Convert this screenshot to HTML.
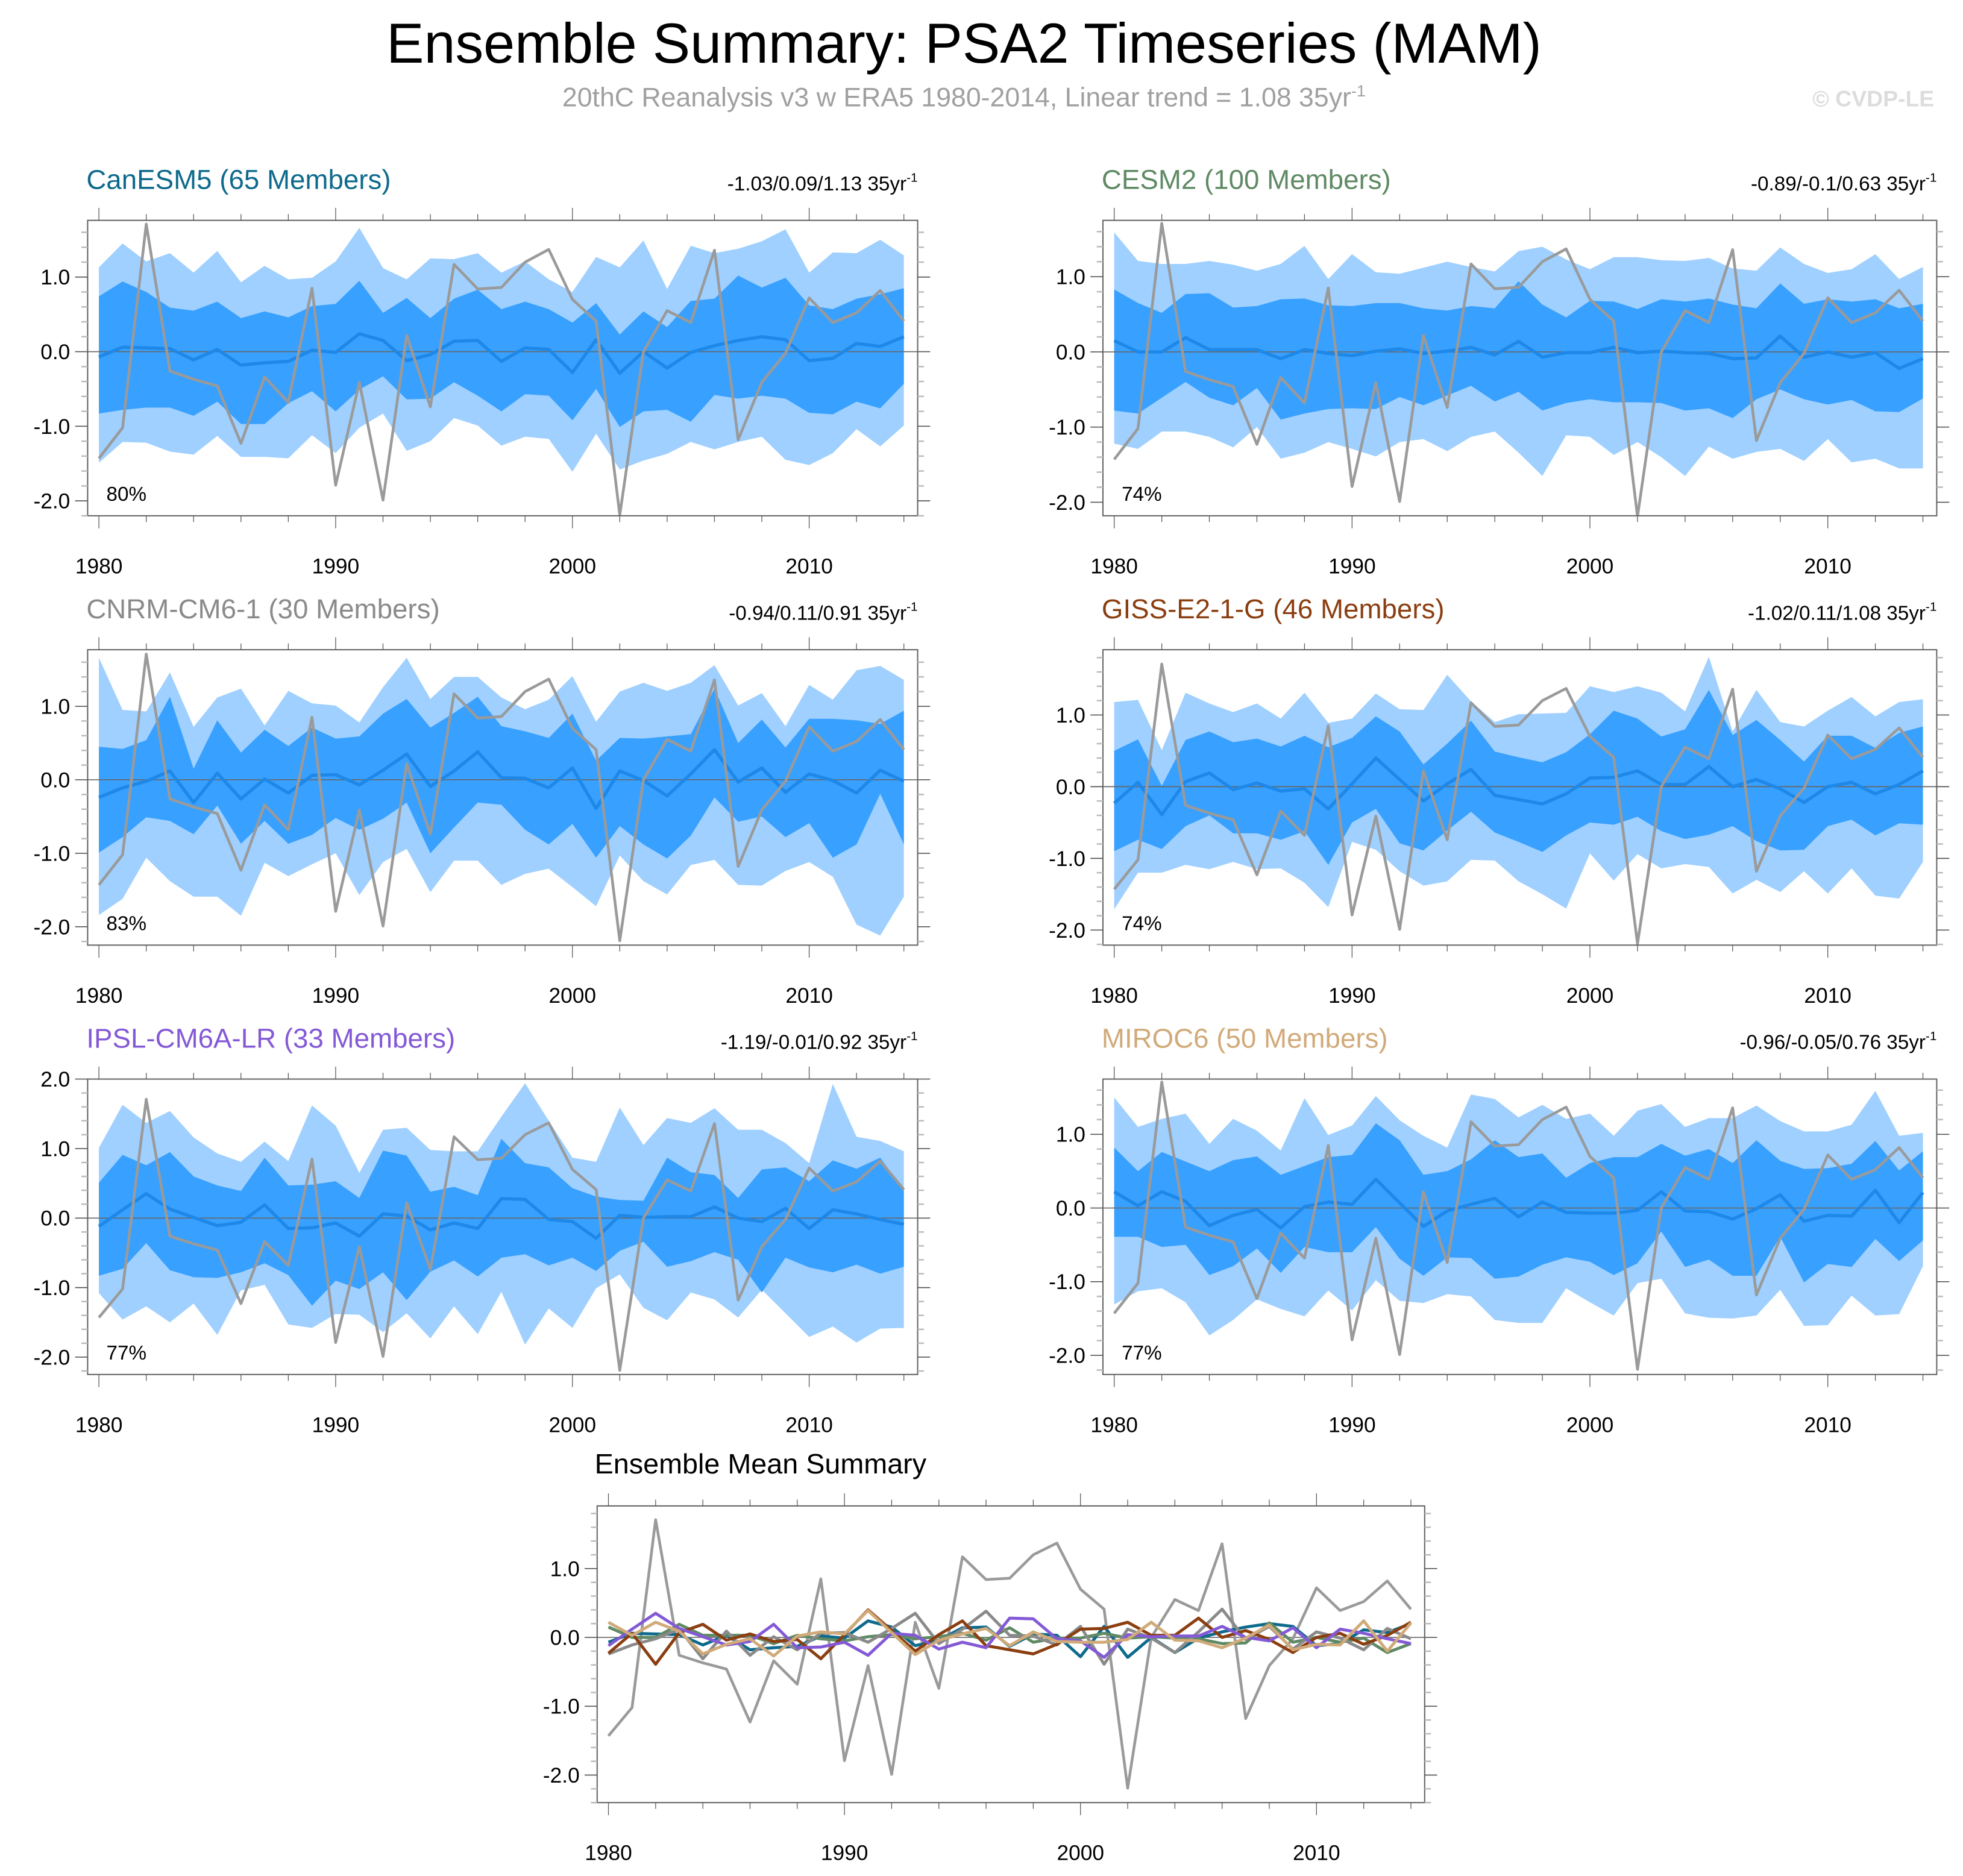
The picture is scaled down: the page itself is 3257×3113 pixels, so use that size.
<!DOCTYPE html>
<html><head><meta charset="utf-8">
<style>
html,body{margin:0;padding:0;background:#fff;}
svg{display:block;}
text{font-family:"Liberation Sans",Arial,sans-serif;}
</style></head>
<body>
<svg id="chart" width="3257" height="3113" viewBox="0 0 1568 1498.6" xmlns="http://www.w3.org/2000/svg">
<text x="770" y="50" font-size="45" text-anchor="middle" fill="#000">Ensemble Summary: PSA2 Timeseries (MAM)</text>
<text x="770" y="85" font-size="21.5" text-anchor="middle" fill="#a0a0a0">20thC Reanalysis v3 w ERA5 1980-2014, Linear trend = 1.08 35yr<tspan dy="-8" font-size="13">-1</tspan></text>
<text x="1545" y="85" font-size="18" font-weight="bold" text-anchor="end" fill="#dcdcdc">© CVDP-LE</text>
<g id="panels"></g>
</svg>
<script>
const years = [];
for (let y = 1980; y <= 2014; y++) years.push(y);
const observed = [-1.43,-1.02,1.71,-0.26,-0.37,-0.46,-1.23,-0.34,-0.68,0.85,-1.79,-0.41,-1.99,0.22,-0.74,1.17,0.84,0.86,1.20,1.37,0.70,0.41,-2.19,0.0,0.55,0.39,1.36,-1.18,-0.41,-0.02,0.72,0.39,0.52,0.82,0.41];

const canMean = [-0.07,0.06,0.05,0.04,-0.11,0.03,-0.18,-0.15,-0.13,0.02,-0.01,0.24,0.15,-0.12,-0.04,0.14,0.15,-0.13,0.05,0.03,-0.28,0.16,-0.29,0.0,-0.22,-0.01,0.08,0.15,0.20,0.16,-0.12,-0.09,0.11,0.07,0.20];
const canInTop = [0.74,0.94,0.80,0.59,0.55,0.67,0.45,0.54,0.46,0.61,0.64,0.95,0.52,0.72,0.45,0.71,0.83,0.57,0.67,0.57,0.39,0.65,0.23,0.54,0.33,0.68,0.71,1.02,0.86,0.99,0.62,0.57,0.71,0.77,0.85];
const canInBot = [-0.83,-0.78,-0.75,-0.75,-0.86,-0.67,-0.97,-0.97,-0.69,-0.53,-0.80,-0.51,-0.33,-0.64,-0.63,-0.41,-0.59,-0.80,-0.57,-0.59,-0.92,-0.50,-1.01,-0.80,-0.78,-0.94,-0.58,-0.63,-0.59,-0.63,-0.82,-0.84,-0.67,-0.76,-0.43];
const canOutTop = [1.13,1.45,1.21,1.32,1.06,1.35,0.93,1.15,0.97,0.99,1.21,1.66,1.12,0.97,1.25,1.24,1.32,1.06,1.21,0.97,0.80,1.27,1.13,1.49,0.84,1.42,1.32,1.38,1.48,1.64,1.06,1.33,1.32,1.50,1.29];
const canOutBot = [-1.49,-1.21,-1.22,-1.34,-1.38,-1.13,-1.41,-1.41,-1.43,-1.12,-1.36,-1.02,-0.83,-1.33,-1.20,-0.89,-0.99,-1.26,-1.14,-1.17,-1.61,-1.10,-1.58,-1.46,-1.37,-1.21,-1.31,-1.21,-1.14,-1.45,-1.52,-1.36,-1.04,-1.27,-0.99];

const cesmMean = [0.15,0,0,0.19,0.03,0.03,0.03,-0.09,0.03,-0.02,-0.05,0.01,0.04,-0.02,0.01,0.06,-0.04,0.14,-0.07,-0.01,-0.01,0.06,-0.01,0.01,-0.01,-0.02,-0.09,-0.08,0.21,-0.07,0,-0.07,-0.01,-0.22,-0.09];
const cesmInTop = [0.83,0.65,0.52,0.77,0.78,0.59,0.61,0.70,0.71,0.62,0.61,0.65,0.65,0.58,0.55,0.61,0.58,0.94,0.63,0.46,0.68,0.67,0.57,0.70,0.67,0.71,0.63,0.58,0.91,0.64,0.70,0.67,0.70,0.58,0.64];
const cesmInBot = [-0.78,-0.82,-0.61,-0.40,-0.61,-0.71,-0.48,-0.90,-0.82,-0.76,-0.75,-0.76,-0.60,-0.71,-0.58,-0.45,-0.66,-0.53,-0.78,-0.68,-0.63,-0.67,-0.67,-0.68,-0.78,-0.75,-0.88,-0.63,-0.50,-0.63,-0.70,-0.64,-0.79,-0.80,-0.62];
const cesmOutTop = [1.59,1.21,1.17,1.17,1.21,1.16,1.08,1.17,1.41,0.97,1.30,1.06,1.04,1.12,1.20,1.13,1.07,1.34,1.40,1.23,1.10,1.26,1.26,1.22,1.21,1.25,1.11,1.08,1.39,1.17,1.05,1.10,1.30,0.97,1.13];
const cesmOutBot = [-1.22,-1.29,-1.06,-1.06,-1.13,-1.27,-1.00,-1.42,-1.34,-1.20,-1.29,-1.39,-1.20,-1.16,-1.32,-1.13,-1.06,-1.34,-1.65,-1.11,-1.13,-1.37,-1.20,-1.40,-1.65,-1.26,-1.42,-1.33,-1.29,-1.45,-1.16,-1.47,-1.42,-1.55,-1.55];

const cnrmMean = [-0.24,-0.11,-0.02,0.12,-0.31,0.09,-0.26,0.01,-0.18,0.06,0.07,-0.07,0.13,0.35,-0.09,0.12,0.38,0.03,0.02,-0.11,0.16,-0.39,0.12,-0.01,-0.22,0.08,0.41,-0.03,0.16,-0.17,0.08,-0.01,-0.18,0.13,-0.02];
const cnrmInTop = [0.45,0.42,0.54,1.13,0.15,0.81,0.37,0.68,0.46,0.71,0.56,0.59,0.90,1.10,0.71,0.91,1.13,0.73,0.66,0.57,0.90,0.26,0.57,0.56,0.59,0.62,1.24,0.50,0.82,0.44,0.83,0.83,0.81,0.76,0.94];
const cnrmInBot = [-0.99,-0.78,-0.51,-0.56,-0.74,-0.35,-0.87,-0.56,-0.87,-0.75,-0.52,-0.68,-0.53,-0.31,-1.00,-0.65,-0.31,-0.34,-0.68,-0.88,-0.60,-1.06,-0.63,-0.88,-1.07,-0.76,-0.24,-0.57,-0.50,-0.78,-0.59,-1.06,-0.88,-0.19,-0.88];
const cnrmOutTop = [1.66,0.95,0.93,1.46,0.72,1.12,1.24,0.74,1.21,1.04,1.01,0.78,1.26,1.66,1.10,1.40,1.40,1.12,0.96,1.09,1.41,0.79,1.20,1.32,1.21,1.32,1.56,1.01,1.18,0.73,1.29,1.09,1.49,1.55,1.36];
const cnrmOutBot = [-1.84,-1.62,-1.06,-1.38,-1.59,-1.59,-1.85,-1.13,-1.31,-1.15,-1.00,-1.57,-1.12,-0.94,-1.53,-1.10,-1.10,-1.43,-1.28,-1.21,-1.46,-1.72,-1.03,-1.38,-1.56,-1.16,-1.09,-1.43,-1.44,-1.24,-1.12,-1.32,-1.97,-2.12,-1.59];

const gissMean = [-0.23,0.06,-0.39,0.07,0.19,-0.04,0.05,-0.06,-0.03,-0.31,0.04,0.40,0.10,-0.20,0.04,0.24,-0.12,-0.18,-0.24,-0.10,0.12,0.13,0.22,0.03,0.03,0.28,0,0.10,-0.03,-0.22,0,0.06,-0.10,0.03,0.22];
const gissInTop = [0.50,0.66,0.01,0.65,0.77,0.62,0.67,0.56,0.71,0.55,0.68,0.98,0.77,0.31,0.60,0.92,0.49,0.41,0.34,0.48,0.73,1.06,0.95,0.70,0.80,1.35,0.72,0.93,0.65,0.35,0.71,0.71,0.54,0.75,0.84];
const gissInBot = [-0.90,-0.74,-0.87,-0.55,-0.40,-0.65,-0.65,-0.74,-0.62,-1.09,-0.50,-0.31,-0.79,-0.89,-0.61,-0.35,-0.64,-0.77,-0.91,-0.68,-0.50,-0.53,-0.42,-0.62,-0.73,-0.67,-0.55,-0.76,-0.89,-0.88,-0.55,-0.46,-0.68,-0.51,-0.53];
const gissOutTop = [1.18,1.21,0.51,1.31,1.16,1.04,1.16,0.95,1.31,0.89,0.95,1.30,1.08,1.07,1.56,1.19,0.90,1.01,1.02,1.03,1.40,1.32,1.40,1.31,1.05,1.81,0.77,1.35,0.90,0.84,1.06,1.25,0.98,1.18,1.22];
const gissOutBot = [-1.71,-1.20,-1.20,-1.09,-1.15,-1.05,-1.15,-1.14,-1.34,-1.68,-0.77,-0.88,-1.18,-1.38,-1.32,-1.02,-1.03,-1.32,-1.50,-1.70,-0.93,-1.31,-0.94,-1.14,-1.08,-1.12,-1.49,-1.30,-1.47,-1.18,-1.49,-1.14,-1.52,-1.56,-1.05];

const ipslMean = [-0.12,0.12,0.35,0.13,0.01,-0.11,-0.06,0.19,-0.15,-0.14,-0.07,-0.26,0.06,0.03,-0.17,-0.07,-0.15,0.28,0.27,-0.02,-0.05,-0.29,0.04,0.01,0.02,0.02,0.16,0,-0.05,0.14,-0.15,0.12,0.06,-0.02,-0.09];
const ipslInTop = [0.51,0.91,0.76,0.95,0.60,0.47,0.39,0.87,0.47,0.48,0.53,0.29,0.97,0.90,0.38,0.45,0.33,1.14,0.79,0.73,0.43,0.31,0.26,0.25,0.87,0.66,0.62,0.29,0.70,0.73,0.53,0.83,0.71,0.87,0.40];
const ipslInBot = [-0.83,-0.73,-0.36,-0.75,-0.85,-0.86,-0.78,-0.65,-0.82,-1.26,-0.90,-1.02,-0.78,-1.18,-0.77,-0.61,-0.84,-0.57,-0.52,-0.68,-0.57,-0.76,-0.47,-0.34,-0.70,-0.62,-0.49,-0.60,-1.07,-0.57,-0.71,-0.78,-0.67,-0.80,-0.70];
const ipslOutTop = [1.01,1.63,1.37,1.54,1.16,0.93,0.81,1.10,0.82,1.62,1.33,0.65,1.27,1.30,0.98,0.96,0.96,1.46,1.94,1.40,0.87,0.81,1.59,1.05,1.44,1.37,1.58,1.27,1.27,1.08,0.79,1.93,1.17,1.11,0.96];
const ipslOutBot = [-1.08,-1.46,-1.27,-1.50,-1.23,-1.68,-1.04,-0.96,-1.53,-1.58,-1.38,-1.39,-1.64,-1.37,-1.73,-1.27,-1.67,-1.06,-1.82,-1.30,-1.58,-1.01,-0.81,-1.29,-1.47,-1.07,-1.17,-1.43,-1.03,-1.37,-1.71,-1.56,-1.79,-1.59,-1.58];

const mirocMean = [0.22,0.03,0.22,0.09,-0.24,-0.10,-0.02,-0.27,0.02,0.08,0.05,0.39,0.07,-0.25,-0.04,0.05,0.13,-0.12,0.08,-0.06,-0.07,-0.07,-0.03,0.22,-0.04,-0.05,-0.15,-0.01,0.18,-0.18,-0.10,-0.11,0.24,-0.20,0.21];
const mirocInTop = [0.82,0.50,0.76,0.63,0.50,0.65,0.70,0.45,0.57,0.69,0.72,1.15,0.92,0.45,0.50,0.66,0.92,0.69,0.74,0.41,0.61,0.69,0.69,0.87,0.71,0.80,0.61,0.92,0.64,0.53,0.54,0.60,0.91,0.51,0.77];
const mirocInBot = [-0.39,-0.39,-0.53,-0.50,-0.91,-0.79,-0.55,-0.88,-0.53,-0.60,-0.60,-0.26,-0.69,-0.92,-0.67,-0.68,-0.96,-0.93,-0.77,-0.67,-0.73,-0.91,-0.75,-0.32,-0.80,-0.70,-0.92,-0.92,-0.39,-1.01,-0.76,-0.80,-0.42,-0.72,-0.44];
const mirocOutTop = [1.50,1.10,1.21,1.28,0.87,1.21,1.05,0.78,1.49,0.99,1.12,1.52,1.19,0.98,0.82,1.54,1.48,1.23,1.40,1.21,1.28,0.98,1.32,1.41,1.10,1.22,1.22,1.39,1.18,1.04,1.04,1.13,1.59,0.98,1.02];
const mirocOutBot = [-1.31,-1.13,-1.09,-1.28,-1.73,-1.52,-1.24,-1.37,-1.47,-1.12,-1.39,-0.98,-1.26,-1.29,-1.17,-1.20,-1.52,-1.56,-1.56,-1.09,-1.28,-1.46,-1.02,-0.96,-1.43,-1.49,-1.50,-1.46,-1.11,-1.60,-1.59,-1.19,-1.46,-1.44,-0.79];

const modelNames = ["CanESM5 (65 Members)","CESM2 (100 Members)","CNRM-CM6-1 (30 Members)","GISS-E2-1-G (46 Members)","IPSL-CM6A-LR (33 Members)","MIROC6 (50 Members)"];
const trendLabels = ["-1.03/0.09/1.13 35yr","-0.89/-0.1/0.63 35yr","-0.94/0.11/0.91 35yr","-1.02/0.11/1.08 35yr","-1.19/-0.01/0.92 35yr","-0.96/-0.05/0.76 35yr"];
const pctLabels = ["80%","74%","83%","74%","77%","77%"];
const xTickYears = [1980,1990,2000,2010];
const modelColors = ["#0e6a8c","#5f8a64","#8a8a8a","#8b3e10","#8459d6","#d1aa79"];

const NS = "http://www.w3.org/2000/svg";
const root = document.getElementById("panels");
function mk(tag, attrs, parent) {
  const e = document.createElementNS(NS, tag);
  for (const k in attrs) e.setAttribute(k, attrs[k]);
  (parent || root).appendChild(e);
  return e;
}

const panelsSpec = [
  {x0:70,x1:733,y0:176,y1:412,vmax:1.76,vmin:-2.2,data:[canMean,canInTop,canInBot,canOutTop,canOutBot]},
  {x0:881,x1:1547,y0:176,y1:412,vmax:1.75,vmin:-2.18,data:[cesmMean,cesmInTop,cesmInBot,cesmOutTop,cesmOutBot]},
  {x0:70,x1:733,y0:519,y1:755,vmax:1.77,vmin:-2.25,data:[cnrmMean,cnrmInTop,cnrmInBot,cnrmOutTop,cnrmOutBot]},
  {x0:881,x1:1547,y0:519,y1:755,vmax:1.91,vmin:-2.21,data:[gissMean,gissInTop,gissInBot,gissOutTop,gissOutBot]},
  {x0:70,x1:733,y0:862,y1:1098,vmax:2.0,vmin:-2.25,data:[ipslMean,ipslInTop,ipslInBot,ipslOutTop,ipslOutBot]},
  {x0:881,x1:1547,y0:862,y1:1098,vmax:1.75,vmin:-2.26,data:[mirocMean,mirocInTop,mirocInBot,mirocOutTop,mirocOutBot]}
];

function axes(p, g) {
  const xs = yr => p.x0 + 9 + (yr - 1980) * ((p.x1 - p.x0 - 20) / 34);
  const ys = v => p.y0 + (p.vmax - v) / (p.vmax - p.vmin) * (p.y1 - p.y0);
  return {xs, ys};
}

function drawFrame(p, g, xs, ys) {
  for (let yr = 1980; yr <= 2014; yr += 2) {
    const major = (yr % 10 === 0);
    const L = major ? 10 : 5;
    const X = xs(yr);
    const t1 = mk("line", {x1:X,x2:X,y1:p.y0,y2:p.y0-L,stroke:"#555","stroke-width":0.6}, g);
    
    
    const t2 = mk("line", {x1:X,x2:X,y1:p.y1,y2:p.y1+L,stroke:"#555","stroke-width":0.6}, g);
    
    
  }
  for (let k = Math.ceil(p.vmin * 5); k <= Math.floor(p.vmax * 5); k++) {
    const v = k / 5;
    const major = (k % 5 === 0);
    const L = major ? 10 : 5;
    const Y = ys(v);
    const c = major ? "#555" : "#bbb";
    const a = mk("line", {x1:p.x0,x2:p.x0-L,y1:Y,y2:Y,stroke:c,"stroke-width":major?0.8:1.2}, g);
    
    
    const b = mk("line", {x1:p.x1,x2:p.x1+L,y1:Y,y2:Y,stroke:c,"stroke-width":major?0.8:1.2}, g);
    
    
    if (major) {
      const t = mk("text", {x:p.x0-14,y:Y+6,"font-size":17,"text-anchor":"end",fill:"#000"}, g);
      t.textContent = v.toFixed(1);
      
      
    }
  }
  xTickYears.forEach(yr => {
    const t = mk("text", {x:xs(yr),y:p.y1+46,"font-size":17,"text-anchor":"middle",fill:"#000"}, g);
    t.textContent = yr;
    
    
  });
}

function poly(arr, xs, ys) {
  return arr.map((v, i) => xs(years[i]).toFixed(2) + "," + ys(v).toFixed(2)).join(" ");
}
function band(top, bot, xs, ys) {
  const pts = top.map((v, i) => xs(years[i]).toFixed(2) + "," + ys(v).toFixed(2));
  for (let i = bot.length - 1; i >= 0; i--) pts.push(xs(years[i]).toFixed(2) + "," + ys(bot[i]).toFixed(2));
  return pts.join(" ");
}

panelsSpec.forEach((p, idx) => {
  const g = mk("g", {});
  
  
  const {xs, ys} = axes(p, g);
  const clipId = "clip" + idx;
  const cp = mk("clipPath", {id: clipId}, g);
  mk("rect", {x:p.x0,y:p.y0,width:p.x1-p.x0,height:p.y1-p.y0}, cp);
  const plot = mk("g", {"clip-path": "url(#" + clipId + ")"}, g);
  const [mean, inTop, inBot, outTop, outBot] = p.data;
  const ob = mk("polygon", {points: band(outTop, outBot, xs, ys), fill:"#9fd0ff"}, plot);
  
  
  const ib = mk("polygon", {points: band(inTop, inBot, xs, ys), fill:"#38a0ff"}, plot);
  
  
  const z = mk("line", {x1:p.x0,x2:p.x1,y1:ys(0),y2:ys(0),stroke:"#666","stroke-width":0.8}, plot);
  
  
  const ml = mk("polyline", {points: poly(mean, xs, ys), fill:"none", stroke:"#1e88e8","stroke-width":2.6,"stroke-linejoin":"round"}, plot);
  
  
  const obs = mk("polyline", {points: poly(observed, xs, ys), fill:"none", stroke:"#9a9a9a","stroke-width":2.2,"stroke-linejoin":"round"}, plot);
  
  
  const fr = mk("rect", {x:p.x0,y:p.y0,width:p.x1-p.x0,height:p.y1-p.y0,fill:"none",stroke:"#666","stroke-width":1}, g);
  
  
  drawFrame(p, g, xs, ys);
  const tt = mk("text", {x:p.x0-1,y:p.y0-25,"font-size":22,fill:modelColors[idx]}, g);
  tt.textContent = modelNames[idx];
  
  
  const tr = mk("text", {x:p.x1,y:p.y0-24,"font-size":16,"text-anchor":"end",fill:"#000"}, g);
  tr.textContent = trendLabels[idx];
  const sup = mk("tspan", {dy:-7,"font-size":10}, tr);
  sup.textContent = "-1";
  
  
  const pc = mk("text", {x:p.x0+15,y:p.y1-12,"font-size":16,fill:"#000"}, g);
  pc.textContent = pctLabels[idx];
  
  
});

const ep = {x0:477,x1:1138,y0:1203,y1:1440,vmax:1.91,vmin:-2.4};
const eg = mk("g", {});


const E = axes(ep, eg);
const ecp = mk("clipPath", {id:"clipE"}, eg);
mk("rect", {x:ep.x0,y:ep.y0,width:ep.x1-ep.x0,height:ep.y1-ep.y0}, ecp);
const eplot = mk("g", {"clip-path":"url(#clipE)"}, eg);
const ez = mk("line", {x1:ep.x0,x2:ep.x1,y1:E.ys(0),y2:E.ys(0),stroke:"#666","stroke-width":0.8}, eplot);


const eobs = mk("polyline", {points: poly(observed, E.xs, E.ys), fill:"none", stroke:"#9a9a9a","stroke-width":2.2,"stroke-linejoin":"round"}, eplot);


panelsSpec.forEach((p, idx) => {
  const l = mk("polyline", {points: poly(p.data[0], E.xs, E.ys), fill:"none", stroke:modelColors[idx],"stroke-width":2.4,"stroke-linejoin":"round"}, eplot);
  
  
});
const efr = mk("rect", {x:ep.x0,y:ep.y0,width:ep.x1-ep.x0,height:ep.y1-ep.y0,fill:"none",stroke:"#666","stroke-width":1}, eg);


drawFrame(ep, eg, E.xs, E.ys);
const et = mk("text", {x:475,y:1177,"font-size":22.5,fill:"#000"}, eg);
et.textContent = "Ensemble Mean Summary";


</script>
</body></html>
